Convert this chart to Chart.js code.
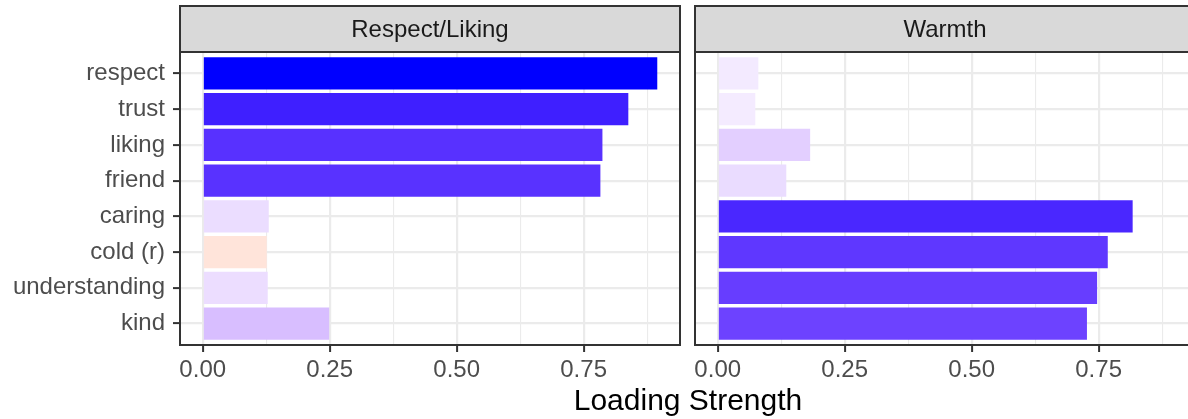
<!DOCTYPE html>
<html>
<head>
<meta charset="utf-8">
<script src="https://cdn.jsdelivr.net/npm/chart.js@4.4.0/dist/chart.umd.min.js"></script>
<style>
  html, body { margin: 0; padding: 0; background: #fff; overflow: hidden; width: 1188px; height: 419px; }
  #wrap { position: relative; width: 1188px; height: 419px; overflow: hidden; }
  canvas { position: absolute; top: 0; }
  #c1 { left: 0; }
  #c2 { left: 688px; }
  #xtitle { position: absolute; left: 388px; width: 600px; top: 385px; text-align: center;
            font: 30px "Liberation Sans", Arial, sans-serif; line-height: 30px; color: #000; }
</style>
</head>
<body>
<div id="wrap">
  <canvas id="c1" width="688" height="419"></canvas>
  <canvas id="c2" width="512" height="419"></canvas>
  <div id="xtitle">Loading Strength</div>
</div>
<script>
// Survey items, top to bottom
const items = ['respect', 'trust', 'liking', 'friend', 'caring', 'cold (r)', 'understanding', 'kind'];
// Signed factor loadings per factor
const respectLiking = [0.895, 0.838, 0.787, 0.783, 0.130, -0.126, 0.128, 0.249];
const warmth        = [0.080, 0.074, 0.182, 0.135, 0.817, 0.768, 0.747, 0.727];
const facetNames = ['Respect/Liking', 'Warmth'];
// Axis breaks
const majorBreaks = [0, 0.25, 0.5, 0.75];
const minorBreaks = [0.125, 0.375, 0.625, 0.875];

const FONT = '"Liberation Sans", Arial, sans-serif';

// shared x range: 0 .. largest |loading|, widened by 5% each side
const maxAbs = Math.max(...respectLiking.map(Math.abs), ...warmth.map(Math.abs));
const xMin = -0.05 * maxAbs;
const xMax = maxAbs * 1.05;

// diverging fill: red (negative) - white (0) - blue (positive), interpolated in CIELAB
function toLin(c) { c /= 255; return c <= 0.04045 ? c / 12.92 : Math.pow((c + 0.055) / 1.055, 2.4); }
function fromLin(v) { v = v <= 0.0031308 ? 12.92 * v : 1.055 * Math.pow(v, 1 / 2.4) - 0.055; return Math.round(Math.min(1, Math.max(0, v)) * 255); }
const WN = [0.95047, 1, 1.08883];
function rgbToLab([r, g, b]) {
  r = toLin(r); g = toLin(g); b = toLin(b);
  const X = 0.4124 * r + 0.3576 * g + 0.1805 * b;
  const Y = 0.2126 * r + 0.7152 * g + 0.0722 * b;
  const Z = 0.0193 * r + 0.1192 * g + 0.9505 * b;
  const f = t => t > 0.008856 ? Math.cbrt(t) : 7.787 * t + 16 / 116;
  const fx = f(X / WN[0]), fy = f(Y / WN[1]), fz = f(Z / WN[2]);
  return [116 * fy - 16, 500 * (fx - fy), 200 * (fy - fz)];
}
function labToRgb([L, a, bb]) {
  const fy = (L + 16) / 116, fx = fy + a / 500, fz = fy - bb / 200;
  const fi = t => t * t * t > 0.008856 ? t * t * t : (t - 16 / 116) / 7.787;
  const X = fi(fx) * WN[0], Y = fi(fy) * WN[1], Z = fi(fz) * WN[2];
  const r = 3.2406 * X - 1.5372 * Y - 0.4986 * Z;
  const g = -0.9689 * X + 1.8758 * Y + 0.0415 * Z;
  const b = 0.0557 * X - 0.2040 * Y + 1.0570 * Z;
  return `rgb(${fromLin(r)},${fromLin(g)},${fromLin(b)})`;
}
const LAB_WHITE = rgbToLab([255, 255, 255]);
const LAB_BLUE = rgbToLab([0, 0, 255]);
const LAB_RED = rgbToLab([255, 0, 0]);
function fillFor(v) {
  const t = Math.min(1, Math.abs(v) / maxAbs);
  const end = v >= 0 ? LAB_BLUE : LAB_RED;
  return labToRgb(LAB_WHITE.map((w, k) => w + (end[k] - w) * t));
}

const isMajor = v => majorBreaks.some(m => Math.abs(m - v) < 1e-9);

// facet strip on top and panel frame
const facetDecor = {
  id: 'facetDecor',
  beforeDraw(chart, args, opts) {
    const { left, right, top } = chart.chartArea;
    const ctx = chart.ctx;
    ctx.save();
    ctx.fillStyle = '#D9D9D9';
    ctx.fillRect(left, 6, right - left, top - 6);
    ctx.strokeStyle = '#333333';
    ctx.lineWidth = 2;
    ctx.strokeRect(left, 6, right - left, top - 6);
    ctx.fillStyle = '#1A1A1A';
    ctx.font = '24px ' + FONT;
    ctx.textAlign = 'center';
    ctx.textBaseline = 'middle';
    ctx.fillText(opts.label, (left + right) / 2, (6 + top) / 2 + 1);
    ctx.restore();
  },
  afterDatasetsDraw(chart) {
    const { left, right, top, bottom } = chart.chartArea;
    const ctx = chart.ctx;
    ctx.save();
    ctx.strokeStyle = '#333333';
    ctx.lineWidth = 2;
    ctx.strokeRect(left, top, right - left, bottom - top);
    ctx.restore();
  }
};

function makePanel(canvasId, label, values, showY, padLeft, padRight) {
  return new Chart(document.getElementById(canvasId), {
    type: 'bar',
    data: {
      datasets: [{
        data: values.map((v, i) => ({ x: Math.abs(v), y: i })),
        backgroundColor: values.map(fillFor),
        borderWidth: 0,
        categoryPercentage: 1,
        barPercentage: 0.9
      }]
    },
    options: {
      indexAxis: 'y',
      responsive: false,
      animation: false,
      layout: { padding: { top: 52, left: padLeft, right: padRight, bottom: 0 } },
      plugins: {
        legend: { display: false },
        tooltip: { enabled: false },
        facetDecor: { label }
      },
      scales: {
        x: {
          type: 'linear',
          min: xMin,
          max: xMax,
          afterBuildTicks: s => { s.ticks = majorBreaks.concat(minorBreaks).sort((a, b) => a - b).map(v => ({ value: v })); },
          afterFit: s => { s.height = 74; },
          border: { display: false },
          grid: {
            color: '#EBEBEB',
            lineWidth: c => isMajor(c.tick.value) ? 2.2 : 1.1,
            tickLength: 7,
            tickWidth: 2,
            tickColor: c => isMajor(c.tick.value) ? '#333333' : 'rgba(0,0,0,0)'
          },
          ticks: {
            autoSkip: false,
            maxRotation: 0,
            padding: 4,
            color: '#4D4D4D',
            font: { family: FONT, size: 24 },
            callback: v => isMajor(v) ? v.toFixed(2) : ''
          }
        },
        y: {
          type: 'linear',
          min: -0.6,
          max: items.length - 0.4,
          reverse: true,
          offset: false,
          afterBuildTicks: s => { s.ticks = items.map((_, i) => ({ value: i })); },
          afterFit: s => { s.width = showY ? 180 : 0; },
          border: { display: false },
          grid: {
            offset: false,
            color: '#EBEBEB',
            lineWidth: 2.2,
            drawTicks: showY,
            tickLength: 7,
            tickWidth: 2,
            tickColor: '#333333'
          },
          ticks: {
            display: showY,
            autoSkip: false,
            padding: 8,
            color: '#4D4D4D',
            font: { family: FONT, size: 24 },
            callback: v => items[v]
          }
        }
      }
    },
    plugins: [facetDecor]
  });
}

makePanel('c1', facetNames[0], respectLiking, true, 0, 8);
makePanel('c2', facetNames[1], warmth, false, 7, 5);
</script>
</body>
</html>
